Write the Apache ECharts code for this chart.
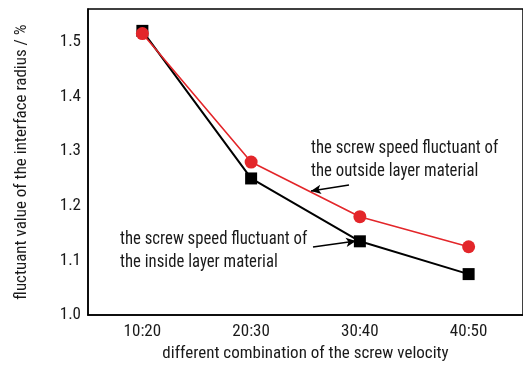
<!DOCTYPE html>
<html>
<head>
<meta charset="utf-8">
<script src="https://cdn.jsdelivr.net/npm/echarts@6/dist/echarts.min.js"></script>
<style>
html,body{margin:0;padding:0;background:#fff;}
#chart{width:523px;height:367px;}
</style>
</head>
<body>
<div id="chart"></div>
<script>
// Screw velocity combinations (inner:outer)
const categories = ['10:20', '20:30', '30:40', '40:50'];
// Fluctuation of interface radius (%) when the inside layer screw speed fluctuates
const insideLayer = [1.52, 1.25, 1.135, 1.075];
// Fluctuation of interface radius (%) when the outside layer screw speed fluctuates
const outsideLayer = [1.515, 1.28, 1.18, 1.125];

const FONT = '"Roboto Condensed", "Liberation Sans", Arial, sans-serif';
const TEXT = '#1a1a1a';
const chart = echarts.init(document.getElementById('chart'));

chart.setOption({
  animation: false,
  backgroundColor: '#fff',
  grid: {
    left: 88, right: -1, top: 9, bottom: 50,
    show: true, borderColor: '#000', borderWidth: 1.5, backgroundColor: 'transparent'
  },
  xAxis: {
    type: 'category',
    data: categories,
    boundaryGap: true,
    name: 'different combination of the screw velocity',
    nameLocation: 'middle',
    nameGap: 29,
    nameTextStyle: { fontFamily: FONT, fontSize: 17, color: TEXT },
    axisLine: { lineStyle: { color: '#000', width: 1.5 } },
    axisTick: { inside: true, length: 6, alignWithLabel: true, lineStyle: { color: '#000', width: 1.5 } },
    axisLabel: { fontFamily: FONT, fontSize: 17, color: TEXT, margin: 8 },
    splitLine: { show: false }
  },
  yAxis: {
    type: 'value',
    min: 1.0, max: 1.56, interval: 0.1,
    name: 'fluctuant value of the interface radius / %',
    nameLocation: 'middle',
    nameGap: 58,
    nameTextStyle: { fontFamily: FONT, fontSize: 17, color: TEXT },
    axisLine: { show: true, lineStyle: { color: '#000', width: 1.5 } },
    axisTick: { show: false },
    axisLabel: {
      fontFamily: FONT, fontSize: 17, color: TEXT, margin: 7,
      showMaxLabel: false,
      formatter: v => v.toFixed(1)
    },
    splitLine: { show: false }
  },
  series: [
    {
      name: 'inside layer',
      type: 'line',
      data: insideLayer,
      symbol: 'rect',
      symbolSize: 12,
      lineStyle: { color: '#000', width: 2 },
      itemStyle: { color: '#000' },
      z: 2,
      markLine: {
        silent: true,
        symbol: ['none', 'arrow'],
        symbolSize: [7, 10],
        label: { show: false },
        lineStyle: { color: '#000', width: 1.5, type: 'solid' },
        data: [[{ x: 313, y: 247 }, { x: 356, y: 241 }]]
      }
    },
    {
      name: 'outside layer',
      type: 'line',
      data: outsideLayer,
      symbol: 'circle',
      symbolSize: 13,
      lineStyle: { color: '#e3262a', width: 1.6 },
      itemStyle: { color: '#e3262a' },
      z: 3,
      markLine: {
        silent: true,
        symbol: ['none', 'arrow'],
        symbolSize: [7, 10],
        label: { show: false },
        lineStyle: { color: '#000', width: 1.5, type: 'solid' },
        data: [[{ x: 349, y: 185 }, { x: 311, y: 191 }]]
      }
    }
  ],
  graphic: [
    {
      type: 'text', x: 311, y: 137, scaleX: 0.93,
      style: {
        text: 'the screw speed fluctuant of\nthe outside layer material',
        font: '18px ' + FONT, fill: TEXT, lineHeight: 23, verticalAlign: 'top'
      }
    },
    {
      type: 'text', x: 120, y: 228, scaleX: 0.93,
      style: {
        text: 'the screw speed fluctuant of\nthe inside layer material',
        font: '18px ' + FONT, fill: TEXT, lineHeight: 23, verticalAlign: 'top'
      }
    }
  ]
});
</script>
</body>
</html>
